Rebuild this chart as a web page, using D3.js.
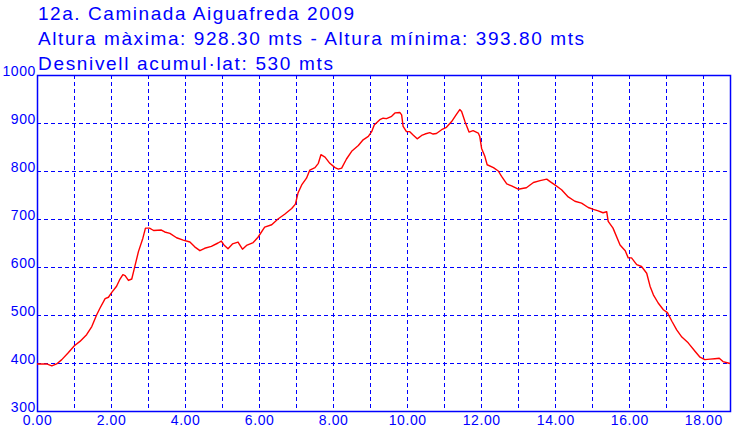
<!DOCTYPE html>
<html>
<head>
<meta charset="utf-8">
<script src="https://cdn.jsdelivr.net/npm/d3@7/dist/d3.min.js"></script>
<style>
  html, body { margin: 0; padding: 0; background: #fff; }
  svg { display: block; }
  .tick text { font-family: "Liberation Sans", Arial, sans-serif; }
</style>
</head>
<body>
<svg id="chart" width="748" height="432"></svg>
<script>
// ---- Data ----
const titleLines = [
  "12a. Caminada Aiguafreda 2009",
  "Altura màxima: 928.30 mts - Altura mínima: 393.80 mts",
  "Desnivell acumul·lat: 530 mts"
];
const distKm = [
  0.00, 0.26, 0.40, 0.53, 0.67, 0.85, 1.01, 1.16, 1.34, 1.48, 1.61, 1.70, 1.84, 1.93, 2.02, 2.15, 2.23, 2.32, 2.38, 2.47,
  2.56, 2.62, 2.74, 2.86, 2.93, 3.04, 3.15, 3.36, 3.45, 3.59, 3.77, 3.95, 4.13, 4.26, 4.40, 4.53, 4.71, 4.89, 4.98, 5.05,
  5.16, 5.28, 5.43, 5.55, 5.66, 5.84, 5.97, 6.15, 6.34, 6.51, 6.69, 6.88, 6.98, 7.05, 7.15, 7.28, 7.37, 7.51, 7.60, 7.67,
  7.78, 7.91, 8.05, 8.14, 8.23, 8.36, 8.50, 8.68, 8.81, 8.95, 9.04, 9.11, 9.26, 9.35, 9.44, 9.58, 9.67, 9.80, 9.85, 9.89,
  9.98, 10.07, 10.16, 10.27, 10.39, 10.48, 10.61, 10.70, 10.79, 10.93, 11.06, 11.20, 11.33, 11.42, 11.47, 11.56, 11.67, 11.78, 11.92, 11.96,
  12.01, 12.10, 12.16, 12.33, 12.46, 12.55, 12.69, 12.82, 13.00, 13.14, 13.22, 13.41, 13.59, 13.77, 13.86, 13.99, 14.17, 14.35, 14.53, 14.71,
  14.89, 15.03, 15.16, 15.29, 15.39, 15.43, 15.56, 15.75, 15.89, 15.97, 16.06, 16.20, 16.33, 16.47, 16.56, 16.65, 16.78, 16.92, 17.03, 17.15,
  17.28, 17.42, 17.59, 17.78, 17.91, 18.04, 18.18, 18.31, 18.43, 18.53, 18.67, 18.72
];
const altM = [
  398, 398, 394, 398, 407, 422, 436, 445, 459, 476, 500, 514, 534, 537, 547, 560, 573, 584, 582, 572,
  575, 594, 632, 660, 681, 681, 676, 677, 673, 670, 661, 656, 652, 642, 634, 639, 643, 650, 654, 646,
  638, 648, 652, 637, 645, 651, 662, 683, 688, 700, 710, 722, 731, 754, 771, 785, 802, 807, 816, 834,
  829, 816, 807, 804, 806, 825, 841, 853, 865, 872, 882, 896, 907, 910, 909, 914, 921, 922, 917, 893,
  882, 882, 875, 867, 874, 877, 880, 877, 878, 886, 891, 903, 918, 928, 924, 903, 881, 884, 879, 872,
  847, 830, 813, 807, 800, 789, 773, 769, 762, 764, 765, 776, 780, 783, 778, 771, 761, 746, 737, 733,
  724, 720, 717, 713, 715, 695, 681, 646, 634, 619, 619, 605, 601, 587, 560, 542, 525, 511, 505, 487,
  469, 454, 442, 424, 412, 407, 408, 409, 410, 403, 400, 399
];
const xDomain = [0, 18.72];
const yDomain = [300, 1000];
const xGridKm = d3.range(1, 19, 1);
const xLabelKm = d3.range(0, 19, 2);
const yTicksM = [300, 400, 500, 600, 700, 800, 900, 1000];
const yGridM = [400, 500, 600, 700, 800, 900];

// ---- Layout ----
const svg = d3.select("#chart");
const L = 37, R = 730, T = 75, B = 411;
const blue = "#0000ff";
const x = d3.scaleLinear().domain(xDomain).range([L, R]);
const y = d3.scaleLinear().domain(yDomain).range([B, T]);

svg.append("rect").attr("width", 748).attr("height", 432).attr("fill", "#fff");

// Title lines
const titleFont = 19;
const titleWidths = [316, 546, 295];
titleLines.forEach((t, i) => {
  svg.append("text")
    .attr("x", 38).attr("y", 20 + i * 25)
    .attr("fill", blue)
    .attr("font-family", "Liberation Sans, Arial, sans-serif")
    .attr("font-size", titleFont)
    .attr("textLength", titleWidths[i])
    .attr("lengthAdjust", "spacing")
    .text(t);
});

// Grid lines
const grid = svg.append("g").attr("stroke", blue).attr("stroke-width", 1).attr("stroke-dasharray", "4,3");
grid.selectAll("line.v").data(xGridKm).join("line")
  .attr("x1", d => Math.round(x(d)) + 0.5).attr("x2", d => Math.round(x(d)) + 0.5)
  .attr("y1", T).attr("y2", B);
grid.selectAll("line.h").data(yGridM).join("line")
  .attr("y1", d => Math.round(y(d)) + 0.5).attr("y2", d => Math.round(y(d)) + 0.5)
  .attr("x1", L).attr("x2", R);

// Axes (labels only)
const xAxis = d3.axisBottom(x).tickValues(xLabelKm).tickSize(0).tickPadding(0)
  .tickFormat(d3.format(".2f"));
const gx = svg.append("g").attr("transform", `translate(0,${B})`).call(xAxis);
gx.select(".domain").remove();
gx.selectAll("text").attr("fill", blue).attr("font-size", 14).attr("dy", null)
  .attr("y", 14).attr("letter-spacing", 0.6);

const yAxis = d3.axisLeft(y).tickValues(yTicksM).tickSize(0).tickPadding(0)
  .tickFormat(d3.format("d"));
const gy = svg.append("g").attr("transform", `translate(${L - 1},0)`).call(yAxis);
gy.select(".domain").remove();
gy.selectAll("text").attr("fill", blue).attr("font-size", 14).attr("dy", null)
  .attr("y", 0).attr("letter-spacing", 0.6);

// Frame
svg.append("rect")
  .attr("x", L + 0.5).attr("y", T + 0.5)
  .attr("width", R - L).attr("height", B - T)
  .attr("fill", "none").attr("stroke", blue).attr("stroke-width", 1.5);

// Profile line
const pts = distKm.map((d, i) => [d, altM[i]]);
svg.append("path")
  .datum(pts)
  .attr("fill", "none")
  .attr("stroke", "#ff0000")
  .attr("stroke-width", 1.4)
  .attr("stroke-linejoin", "round")
  .attr("d", d3.line().x(d => x(d[0])).y(d => y(d[1])));
</script>
</body>
</html>
